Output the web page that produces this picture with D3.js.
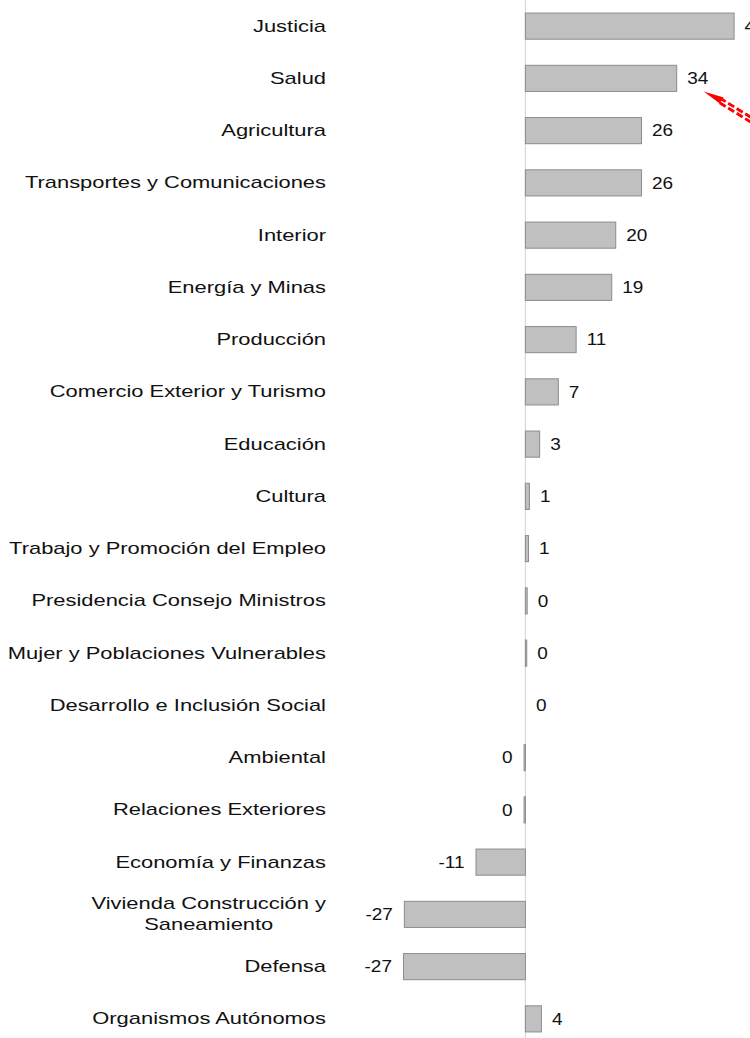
<!DOCTYPE html>
<html>
<head>
<meta charset="utf-8">
<script src="https://cdn.jsdelivr.net/npm/d3@7"></script>
<style>
  html, body { margin: 0; padding: 0; background: #fff; }
  svg { display: block; }
  text { font-family: "Liberation Sans", Arial, sans-serif; fill: #111; }
</style>
</head>
<body>
<svg id="chart" width="750" height="1038"></svg>
<script>
// sectores
let categories = [
  "Justicia", "Salud", "Agricultura", "Transportes y Comunicaciones", "Interior",
  "Energía y Minas", "Producción", "Comercio Exterior y Turismo", "Educación", "Cultura",
  "Trabajo y Promoción del Empleo", "Presidencia Consejo Ministros",
  "Mujer y Poblaciones Vulnerables", "Desarrollo e Inclusión Social", "Ambiental",
  "Relaciones Exteriores", "Economía y Finanzas", "Vivienda Construcción y Saneamiento",
  "Defensa", "Organismos Autónomos"
];
let values = [
  46.9, 34.0, 26.1, 26.1, 20.3,
  19.4, 11.4, 7.4, 3.2, 0.9,
  0.7, 0.4, 0.3, 0.0, -0.3,
  -0.3, -11.1, -27.2, -27.4, 3.6
];
let xDomain = [-30, 50];

let svg = d3.select("#chart"),
    W = 750, H = 1038,
    stretch = 1.37,          // the picture is wider than tall text
    labelRight = 326;

let x = d3.scaleLinear().domain(xDomain).range([391.9, 747.9]);
let y = d3.scaleBand().domain(categories).range([0, 1045])
    .paddingInner(0.5).paddingOuter(0.25);

let fmt = v => String(Math.round(v) || 0);

// zero line
svg.append("line")
    .attr("x1", x(0)).attr("x2", x(0))
    .attr("y1", 0).attr("y2", H)
    .style("stroke", "#d9d9d9")
    .style("stroke-width", 1.2);

// bars
let data = categories.map((c, i) => ({cat: c, v: values[i]}));
svg.selectAll(".bar")
    .data(data)
    .enter().append("rect")
    .attr("class", "bar")
    .attr("x", d => Math.min(x(0), x(d.v)))
    .attr("y", d => y(d.cat))
    .attr("width", d => Math.abs(x(d.v) - x(0)))
    .attr("height", y.bandwidth())
    .style("fill", "#c0c0c0")
    .style("stroke", "#8c8c8c")
    .style("stroke-width", 1);

// value labels
svg.selectAll(".val")
    .data(data)
    .enter().append("text")
    .attr("class", "val")
    .attr("transform", d => {
        let px = d.v >= 0 ? x(d.v) + 10.5 : x(d.v) - 11.5;
        return `translate(${px},${y(d.cat) + y.bandwidth() / 2}) scale(1.15,1)`;
    })
    .attr("dy", "0.35em")
    .style("font-size", "16.5px")
    .style("text-anchor", d => d.v >= 0 ? "start" : "end")
    .text(d => fmt(d.v));

// category labels, wrapped like the original
let maxW = 320 / stretch;
let lab = svg.selectAll(".cat")
    .data(data)
    .enter().append("g")
    .attr("class", "cat")
    .attr("transform", d => `translate(${labelRight},${y(d.cat) + y.bandwidth() / 2}) scale(${stretch},1)`);

lab.each(function (d) {
    let g = d3.select(this);
    let probe = g.append("text").style("font-size", "16px");
    let words = d.cat.split(" "), lines = [], cur = [];
    words.forEach(w => {
        probe.text(cur.concat(w).join(" "));
        if (probe.node().getComputedTextLength() > maxW && cur.length) {
            lines.push(cur.join(" "));
            cur = [w];
        } else cur.push(w);
    });
    lines.push(cur.join(" "));
    let widest = d3.max(lines, l => { probe.text(l); return probe.node().getComputedTextLength(); });
    probe.remove();
    let lh = 21;
    lines.forEach((l, k) => {
        g.append("text")
            .attr("x", lines.length > 1 ? -widest / 2 : 0)
            .attr("y", (k - (lines.length - 1) / 2) * lh)
            .attr("dy", "0.35em")
            .style("font-size", "16px")
            .style("text-anchor", lines.length > 1 ? "middle" : "end")
            .text(l);
    });
});

// red dashed callout arrow pointing at Salud (cut off by the edge)
let ann = svg.append("g").attr("id", "callout");
let tip = [x(values[1]) + 27, y(categories[1]) + y.bandwidth() / 2 + 13];
ann.append("path")
    .attr("d", d3.line()([[tip[0], tip[1]], [tip[0] + 20, tip[1] + 6], [tip[0] + 16, tip[1] + 12]]))
    .style("fill", "#ff0000");
[-2.4, 2.4].forEach(o => {
    ann.append("line")
        .attr("x1", tip[0] + 16).attr("y1", tip[1] + 9 + o)
        .attr("x2", W + 5).attr("y2", tip[1] + 9 + o + (W + 5 - tip[0] - 16) * 0.62)
        .style("stroke", "#ff0000")
        .style("stroke-width", 2.8)
        .style("stroke-dasharray", "7 3");
});
</script>
</body>
</html>
